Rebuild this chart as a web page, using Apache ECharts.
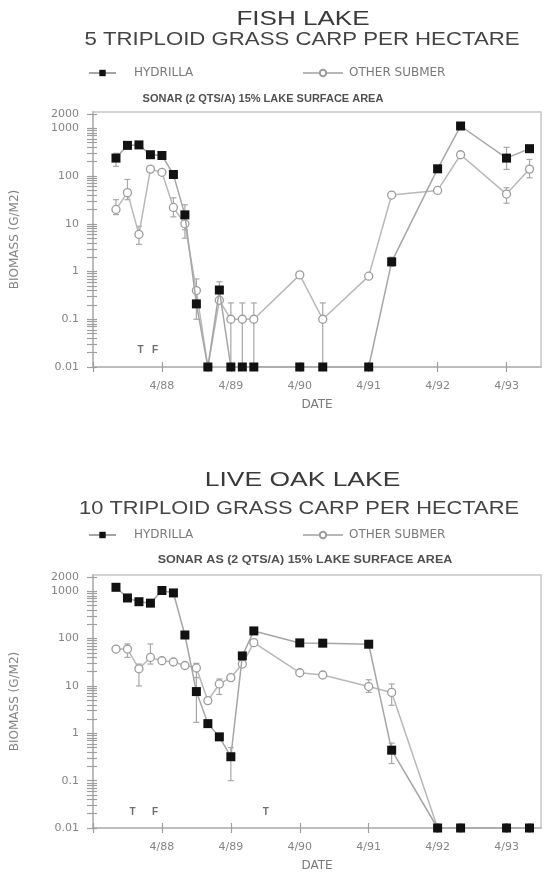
<!DOCTYPE html>
<html><head><meta charset="utf-8">
<script src="https://cdn.jsdelivr.net/npm/echarts@6/dist/echarts.min.js"></script>
<style>html,body{margin:0;padding:0;background:#fff}#c{width:547px;height:873px}</style>
</head><body><div id="c"></div>
<script>
// ---- data ----
const dates = ['8/87','10/87','12/87','2/88','4/88','6/88','8/88','10/88','12/88','2/89','4/89','6/89','8/89','4/90','8/90','4/91','8/91','4/92','8/92','4/93','8/93'];
const xTickLabels = ['4/88','4/89','4/90','4/91','4/92','4/93'];
const yTickLabels = [0.01, 0.1, 1, 10, 100, 1000, 2000];

// Fish Lake (values at 0.01 = none found, plotted on the axis floor)
const fishHydrilla = [238, 440, 450, 280, 270, 108, 15.4, 0.21, 0.01, 0.41, 0.01, 0.01, 0.01, 0.01, 0.01, 0.01, 1.6, 142, 1120, 238, 375];
const fishOther    = [20, 45, 6, 140, 120, 22, 10, 0.4, 0.01, 0.25, 0.1, 0.1, 0.1, 0.85, 0.1, 0.8, 40, 50, 280, 42, 140];
const fishHydrillaErr = [[160,300],null,null,null,null,null,[7.5,25],null,null,[0.28,0.61],null,null,null,null,null,null,[1.28,2],null,null,[138,400],null];
const fishOtherErr    = [[15.6,32],[32,85],[3.7,8.9],null,null,[14,35],[5,14],[0.1,0.7],null,null,[0.01,0.22],[0.01,0.22],[0.01,0.22],null,[0.01,0.22],null,null,null,null,[27,57],[92,223]];
const fishNotes = [['T', 8.3, 0.022], ['F', 10.8, 0.022]];

// Live Oak Lake
const oakHydrilla = [1210, 720, 600, 560, 1035, 920, 119, 7.6, 1.6, 0.84, 0.32, 43, 145, 81, 80, 76, 0.44, 0.01, 0.01, 0.01, 0.01];
const oakOther    = [60, 60, 23, 40, 34, 32, 27, 24, 4.9, 11, 15, 29, 82, 19, 17, 9.7, 7.3, 0.01, 0.01, 0.01, 0.01];
const oakHydrillaErr = [null,null,null,null,null,null,null,[1.7,15],null,null,[0.1,0.5],null,null,null,null,null,[0.23,0.62],null,null,null,null];
const oakOtherErr    = [null,[40,77],[10,29],[29,77],null,null,null,[15,30],null,[6.6,14],null,null,null,null,null,[7.3,13.5],[3.9,11],null,null,null,null];
const oakNotes = [['T', 6.9, 0.022], ['F', 10.8, 0.022], ['T', 30.1, 0.022]];

// ---- helpers ----
function monthIdx(s){ const p = s.split('/').map(Number); return (p[1]-87)*12 + (p[0]-4); }
function fmtNum(v){ return String(+Number(v).toPrecision(3)); }
function fmtMonth(m){ const t = 3 + Math.round(m); return (t%12+1) + '/' + (87 + Math.floor(t/12)); }
const xs = dates.map(monthIdx);
const xTickVals = [0].concat(xTickLabels.map(monthIdx));
const yMinor = [];
for (let n = -2; n <= 3; n++) for (let k = 1; k <= 9; k++) { const v = +(k*Math.pow(10,n)).toPrecision(6); if (v <= 2200) yMinor.push(v); }

const AX = '#bdbdbd', TK = '#9e9e9e', LBL = '#858585';
function makeX(g, inner){
  return {type:'value', gridIndex:g, position:'bottom', min:0, max:78,
    axisLine:{show:!inner, onZero:false, lineStyle:{color:AX, width:2}},
    axisTick:{show:true, inside:inner, length:5, customValues:xTickVals, lineStyle:{color:TK, width:1.2}},
    axisLabel:{show:!inner, customValues:xTickLabels.map(monthIdx), margin:14, fontFamily:'DejaVu Sans', fontSize:11, color:LBL, formatter:v=>fmtMonth(v)},
    splitLine:{show:false},
    name: inner ? '' : 'DATE', nameLocation:'middle', nameGap:32,
    nameTextStyle:{fontFamily:'DejaVu Sans', fontSize:12, color:'#7a7a7a'}};
}
function makeY(g, inner){
  return {type:'log', logBase:10, gridIndex:g, position:'left', min:0.01, max:2200,
    axisLine:{show:!inner, onZero:false, lineStyle:{color:AX, width:2}},
    axisTick:{show:true, inside:inner, length:inner?4:6, customValues:yMinor, lineStyle:{color:TK, width:1.2}},
    axisLabel:{show:!inner, customValues:yTickLabels, margin:14, fontFamily:'DejaVu Sans', fontSize:11, color:LBL, formatter:v=>fmtNum(v)},
    splitLine:{show:false}, minorTick:{show:false},
    name: inner ? '' : 'BIOMASS (G/M2)', nameLocation:'middle', nameGap:72, nameRotate:90,
    nameTextStyle:{fontFamily:'DejaVu Sans', fontSize:12, color:'#858585'}};
}
function errRender(params, api){
  const x = api.value(0), lo = api.value(1), hi = api.value(2);
  const a = api.coord([x, lo]), b = api.coord([x, hi]);
  const st = {stroke:'#a8a8a8', lineWidth:1.2};
  const ch = [{type:'line', shape:{x1:a[0], y1:a[1], x2:b[0], y2:b[1]}, style:st},
              {type:'line', shape:{x1:b[0]-3, y1:b[1], x2:b[0]+3, y2:b[1]}, style:st}];
  if (lo > 0.011) ch.push({type:'line', shape:{x1:a[0]-3, y1:a[1], x2:a[0]+3, y2:a[1]}, style:st});
  return {type:'group', children:ch};
}
function errData(errs){ const out=[]; errs.forEach((e,i)=>{ if(e) out.push([xs[i], e[0], e[1]]); }); return out; }
function chartSeries(ax, hyd, oth, hydErr, othErr, notes){
  return [
    {type:'custom', xAxisIndex:ax, yAxisIndex:ax, renderItem:errRender, data:errData(othErr), encode:{x:0, y:[1,2]}, z:1, silent:true},
    {type:'custom', xAxisIndex:ax, yAxisIndex:ax, renderItem:errRender, data:errData(hydErr), encode:{x:0, y:[1,2]}, z:1, silent:true},
    {type:'line', name:'OTHER SUBMER', xAxisIndex:ax, yAxisIndex:ax, data:xs.map((x,i)=>[x, oth[i]]),
      symbol:'circle', symbolSize:8, showAllSymbol:true,
      itemStyle:{color:'#ffffff', borderColor:'#9c9c9c', borderWidth:1.3},
      lineStyle:{color:'#b8b8b8', width:1.5}, z:2},
    {type:'line', name:'HYDRILLA', xAxisIndex:ax, yAxisIndex:ax, data:xs.map((x,i)=>[x, hyd[i]]),
      symbol:'rect', symbolSize:9, showAllSymbol:true,
      itemStyle:{color:'#111111'},
      lineStyle:{color:'#a6a6a6', width:1.5}, z:3},
    {type:'scatter', xAxisIndex:ax, yAxisIndex:ax, symbolSize:1, itemStyle:{color:'transparent'},
      data:notes.map(n=>[n[1], n[2], n[0]]),
      label:{show:true, position:'inside', formatter:p=>p.data[2], fontFamily:'Liberation Sans', fontWeight:'bold', fontSize:10, color:'#4a4a4a'}, z:4, silent:true}
  ];
}
function txt(t, x, y, size, sx, color, weight){
  return {type:'text', x:x, y:y, scaleX:sx, silent:true,
    style:{text:t, fontFamily:'Liberation Sans', fontSize:size, fontWeight:weight||'normal', fill:color,
      align:'center', verticalAlign:'middle', textAlign:'center', textVerticalAlign:'middle'}};
}
function legendItem(name, left, top, w){
  return {data:[name], left:left, top:top, itemWidth:w, itemHeight:8, padding:0, selectedMode:false,
    textStyle:{fontFamily:'DejaVu Sans', fontSize:12, color:'#7a7a7a', padding:[0,0,0, name==='HYDRILLA'?13:1]}};
}

const chart = echarts.init(document.getElementById('c'), null, {renderer:'canvas'});
chart.setOption({
  animation:false,
  backgroundColor:'#ffffff',
  grid:[
    {left:93, top:112, right:6, height:255, show:true, borderColor:'#c6c6c6', borderWidth:1.5},
    {left:93, top:575, right:6, height:253, show:true, borderColor:'#c6c6c6', borderWidth:1.5}
  ],
  xAxis:[makeX(0,false), makeX(1,false), makeX(0,true), makeX(1,true)],
  yAxis:[makeY(0,false), makeY(1,false), makeY(0,true), makeY(1,true)],
  legend:[
    legendItem('HYDRILLA', 88, 67, 27), legendItem('OTHER SUBMER', 302, 67, 40),
    legendItem('HYDRILLA', 88, 529, 27), legendItem('OTHER SUBMER', 302, 529, 40)
  ],
  graphic:[
    txt('FISH LAKE', 303, 19, 21, 1.24, '#3a3a3a'),
    txt('5 TRIPLOID GRASS CARP PER HECTARE', 302, 40, 18.5, 1.2, '#444444'),
    txt('SONAR (2 QTS/A) 15% LAKE SURFACE AREA', 263, 99, 10, 1.1, '#505050', 'bold'),
    txt('LIVE OAK LAKE', 302.5, 480, 21, 1.26, '#3a3a3a'),
    txt('10 TRIPLOID GRASS CARP PER HECTARE', 299, 509, 18.5, 1.18, '#444444'),
    txt('SONAR AS (2 QTS/A) 15% LAKE SURFACE AREA', 305, 560, 10, 1.25, '#505050', 'bold')
  ],
  series: chartSeries(0, fishHydrilla, fishOther, fishHydrillaErr, fishOtherErr, fishNotes)
    .concat(chartSeries(1, oakHydrilla, oakOther, oakHydrillaErr, oakOtherErr, oakNotes))
});
</script>
</body></html>
